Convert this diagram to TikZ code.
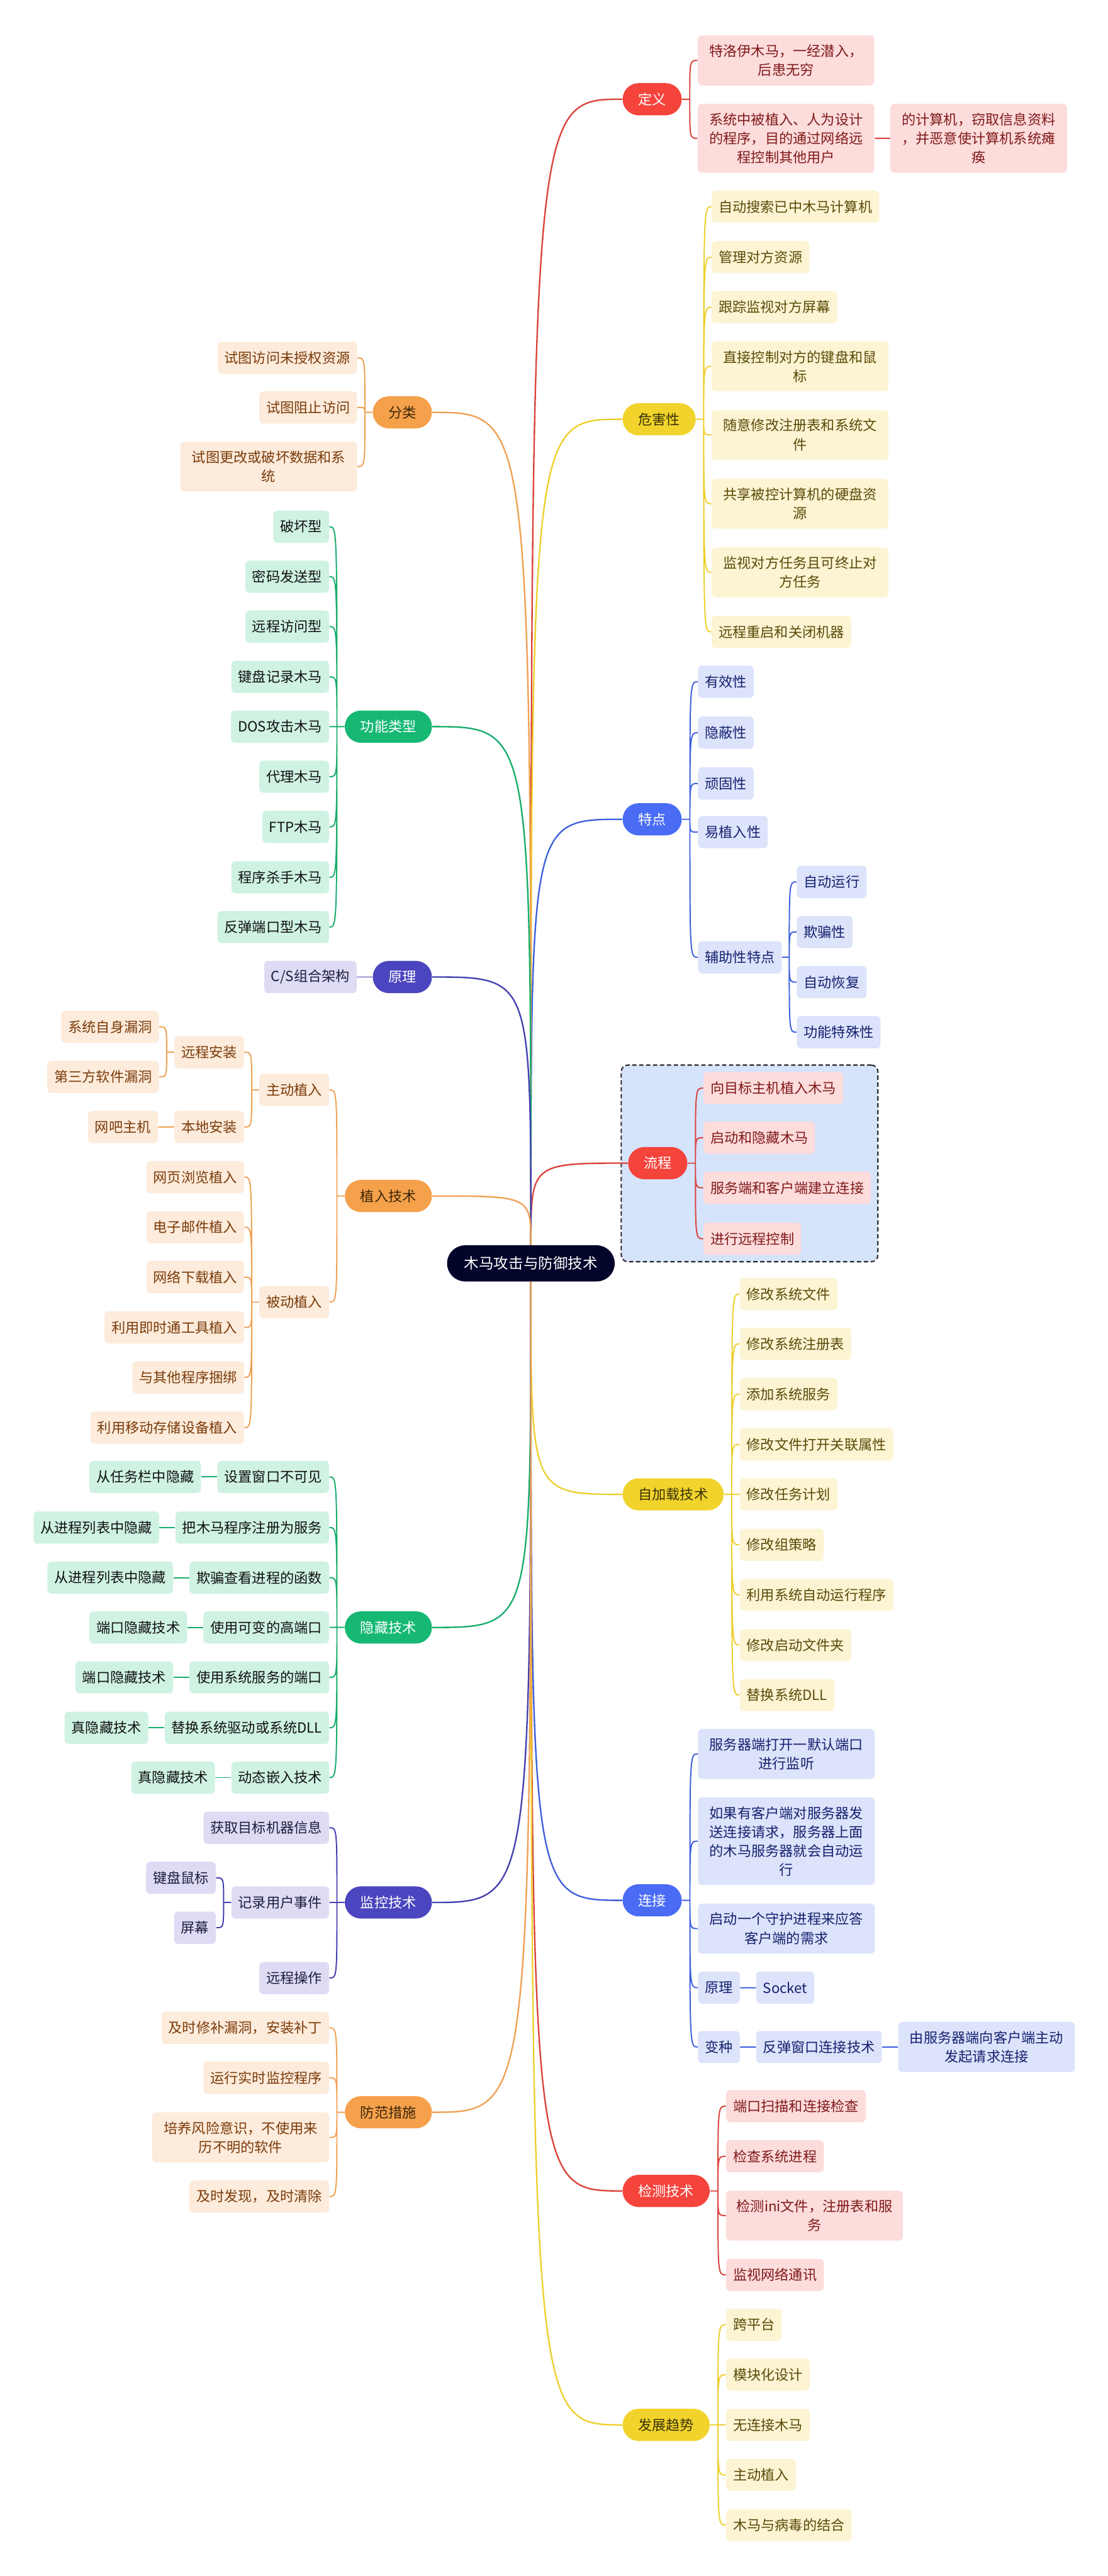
\documentclass[tikz,border=0pt]{standalone}
\usepackage{fontspec}
\setmainfont{Noto Sans CJK SC}
\usetikzlibrary{positioning,calc,fit,backgrounds}

\definecolor{rootC}{HTML}{03042A}
\definecolor{redM}{HTML}{F4443C}
\definecolor{redL}{HTML}{FDDCDC}
\definecolor{redT}{HTML}{801A1A}
\definecolor{redW}{HTML}{D9443C}
\definecolor{yelM}{HTML}{F1D32C}
\definecolor{yelL}{HTML}{FCF4D3}
\definecolor{yelT}{HTML}{5A4A08}
\definecolor{yelP}{HTML}{3A3208}
\definecolor{yelW}{HTML}{EDCF2E}
\definecolor{bluM}{HTML}{4A6CF5}
\definecolor{bluL}{HTML}{DCE3FB}
\definecolor{bluT}{HTML}{17216E}
\definecolor{bluW}{HTML}{3D60DC}
\definecolor{orgM}{HTML}{F5A04B}
\definecolor{orgL}{HTML}{FDEBDB}
\definecolor{orgT}{HTML}{7A3B0A}
\definecolor{orgP}{HTML}{3D2608}
\definecolor{orgW}{HTML}{EFA154}
\definecolor{grnM}{HTML}{16B873}
\definecolor{grnL}{HTML}{CFF2E3}
\definecolor{grnT}{HTML}{111111}
\definecolor{grnW}{HTML}{18AD6C}
\definecolor{indM}{HTML}{4B45BF}
\definecolor{indL}{HTML}{DEDCF4}
\definecolor{indT}{HTML}{1E1D3C}
\definecolor{indW}{HTML}{4540B0}
\definecolor{boxC}{HTML}{D5E3FB}
\definecolor{boxD}{HTML}{2B2B2B}

\begin{document}
\begin{tikzpicture}[
  x=1pt, y=-1pt,
  rootbox/.style={fill=rootC, text=white, rounded corners=11pt, minimum height=22pt, inner xsep=10.5pt, inner ysep=0pt, font=\fontsize{9}{11}\selectfont},
  pill/.style={rounded corners=9.8pt, minimum height=19.6pt, inner xsep=9.5pt, inner ysep=0pt, font=\fontsize{8.5}{11.5}\selectfont},
  leafbox/.style={rounded corners=2.5pt, minimum height=19.6pt, inner xsep=4.2pt, inner ysep=5.5pt, align=center, font=\fontsize{8.5}{11.5}\selectfont},
  wbox/.style={minimum width=107.5pt},
  redm/.style={pill, fill=redM, text=white},
  redk/.style={leafbox, fill=redL, text=redT},
  yelm/.style={pill, fill=yelM, text=yelP},
  yelk/.style={leafbox, fill=yelL, text=yelT},
  blum/.style={pill, fill=bluM, text=white},
  bluk/.style={leafbox, fill=bluL, text=bluT},
  orgm/.style={pill, fill=orgM, text=orgP},
  orgk/.style={leafbox, fill=orgL, text=orgT},
  grnm/.style={pill, fill=grnM, text=white},
  grnk/.style={leafbox, fill=grnL, text=grnT},
  indm/.style={pill, fill=indM, text=white},
  indk/.style={leafbox, fill=indL, text=indT},
  procframe/.style={draw=boxD, fill=boxC, dash pattern=on 2.6pt off 1.6pt, line width=0.8pt, rounded corners=4pt, inner sep=4pt},
  trunk/.style={line width=0.9pt, to path={let \p1=(\tikztostart), \p2=(\tikztotarget) in (\p1) .. controls (\x1,\y2) .. (\p2)}},
  kid/.style={line width=0.75pt, to path={let \p1=(\tikztostart), \p2=(\tikztotarget) in (\p1) -- ({(\x1+\x2)/2},\y1) .. controls ({(\x1+\x2)/2},\y2) .. (\p2)}}
]
\useasboundingbox (0,0) rectangle (674,1568);

\node[rootbox] (root) at (323,769) {木马攻击与防御技术};

% right side
\node[redm, anchor=west] (def) at (378.6,60.4) {定义};
\node[redk, wbox, anchor=west] (def1) at (424.3,36.8) {特洛伊木马，一经潜入，\\后患无穷};
\node[redk, wbox, anchor=west] (def2) at (424.3,84.2) {系统中被植入、人为设计\\的程序，目的通过网络远\\程控制其他用户};
\node[redk, wbox, right=9.3pt of def2] (def3) {的计算机，窃取信息资料\\，并恶意使计算机系统瘫\\痪};

\node[yelm, anchor=west] (harm) at (378.6,255.2) {危害性};
\node[yelk, anchor=west] (harm1) at (432.8,125.8) {自动搜索已中木马计算机};
\node[yelk, anchor=west] (harm2) at (432.8,156.5) {管理对方资源};
\node[yelk, anchor=west] (harm3) at (432.8,187) {跟踪监视对方屏幕};
\node[yelk, wbox, anchor=west] (harm4) at (432.8,223) {直接控制对方的键盘和鼠\\标};
\node[yelk, wbox, anchor=west] (harm5) at (432.8,264.7) {随意修改注册表和系统文\\件};
\node[yelk, wbox, anchor=west] (harm6) at (432.8,306.6) {共享被控计算机的硬盘资\\源};
\node[yelk, wbox, anchor=west] (harm7) at (432.8,348.4) {监视对方任务且可终止对\\方任务};
\node[yelk, anchor=west] (harm8) at (432.8,384.6) {远程重启和关闭机器};

\node[blum, anchor=west] (feat) at (378.6,498.7) {特点};
\node[bluk, anchor=west] (feat1) at (424.5,415) {有效性};
\node[bluk, anchor=west] (feat2) at (424.5,446) {隐蔽性};
\node[bluk, anchor=west] (feat3) at (424.5,476.9) {顽固性};
\node[bluk, anchor=west] (feat4) at (424.5,506.5) {易植入性};
\node[bluk, anchor=west] (feat5) at (424.5,582.7) {辅助性特点};
\node[bluk, anchor=west] (aux1) at (484.6,536.8) {自动运行};
\node[bluk, anchor=west] (aux2) at (484.6,567.3) {欺骗性};
\node[bluk, anchor=west] (aux3) at (484.6,597.8) {自动恢复};
\node[bluk, anchor=west] (aux4) at (484.6,628.3) {功能特殊性};

\node[redm, anchor=west] (proc) at (382,708) {流程};
\node[redk, anchor=west] (proc1) at (427.8,662.3) {向目标主机植入木马};
\node[redk, anchor=west] (proc2) at (427.8,692.5) {启动和隐藏木马};
\node[redk, anchor=west] (proc3) at (427.8,723) {服务端和客户端建立连接};
\node[redk, anchor=west] (proc4) at (427.8,754) {进行远程控制};
\begin{scope}[on background layer]
  \node[procframe, fit=(proc)(proc1)(proc2)(proc3)(proc4)] (procbox) {};
\end{scope}

\node[yelm, anchor=west] (load) at (378.6,909.6) {自加载技术};
\node[yelk, anchor=west] (load1) at (449.9,787.7) {修改系统文件};
\node[yelk, anchor=west] (load2) at (449.9,818) {修改系统注册表};
\node[yelk, anchor=west] (load3) at (449.9,848.6) {添加系统服务};
\node[yelk, anchor=west] (load4) at (449.9,879.2) {修改文件打开关联属性};
\node[yelk, anchor=west] (load5) at (449.9,909.6) {修改任务计划};
\node[yelk, anchor=west] (load6) at (449.9,940.3) {修改组策略};
\node[yelk, anchor=west] (load7) at (449.9,970.8) {利用系统自动运行程序};
\node[yelk, anchor=west] (load8) at (449.9,1001.3) {修改启动文件夹};
\node[yelk, anchor=west] (load9) at (449.9,1031.8) {替换系统DLL};

\node[blum, anchor=west] (conn) at (378.6,1156.7) {连接};
\node[bluk, wbox, anchor=west] (conn1) at (424.5,1067.6) {服务器端打开一默认端口\\进行监听};
\node[bluk, wbox, anchor=west] (conn2) at (424.5,1120.7) {如果有客户端对服务器发\\送连接请求，服务器上面\\的木马服务器就会自动运\\行};
\node[bluk, wbox, anchor=west] (conn3) at (424.5,1173.9) {启动一个守护进程来应答\\客户端的需求};
\node[bluk, anchor=west] (conn4) at (424.5,1209.9) {原理};
\node[bluk, right=9.6pt of conn4] (sock) {Socket};
\node[bluk, anchor=west] (conn5) at (424.5,1246) {变种};
\node[bluk, right=9.6pt of conn5] (rebound) {反弹窗口连接技术};
\node[bluk, wbox, right=9.6pt of rebound] (rebound2) {由服务器端向客户端主动\\发起请求连接};

\node[redm, anchor=west] (det) at (378.6,1333.6) {检测技术};
\node[redk, anchor=west] (det1) at (441.6,1282) {端口扫描和连接检查};
\node[redk, anchor=west] (det2) at (441.6,1312.5) {检查系统进程};
\node[redk, wbox, anchor=west] (det3) at (441.6,1348.6) {检测ini文件，注册表和服\\务};
\node[redk, anchor=west] (det4) at (441.6,1384.7) {监视网络通讯};

\node[yelm, anchor=west] (trend) at (378.6,1476) {发展趋势};
\node[yelk, anchor=west] (trend1) at (441.6,1415) {跨平台};
\node[yelk, anchor=west] (trend2) at (441.6,1445.5) {模块化设计};
\node[yelk, anchor=west] (trend3) at (441.6,1476) {无连接木马};
\node[yelk, anchor=west] (trend4) at (441.6,1506.5) {主动植入};
\node[yelk, anchor=west] (trend5) at (441.6,1537) {木马与病毒的结合};

% left side
\node[orgm, anchor=east] (cls) at (263,251) {分类};
\node[orgk, anchor=east] (cls1) at (217.4,217.8) {试图访问未授权资源};
\node[orgk, anchor=east] (cls2) at (217.4,248) {试图阻止访问};
\node[orgk, wbox, anchor=east] (cls3) at (217.4,284) {试图更改或破坏数据和系\\统};

\node[grnm, anchor=east] (func) at (263,442.3) {功能类型};
\node[grnk, anchor=east] (func1) at (200.4,320.6) {破坏型};
\node[grnk, anchor=east] (func2) at (200.4,351) {密码发送型};
\node[grnk, anchor=east] (func3) at (200.4,381.4) {远程访问型};
\node[grnk, anchor=east] (func4) at (200.4,412) {键盘记录木马};
\node[grnk, anchor=east] (func5) at (200.4,442.3) {DOS攻击木马};
\node[grnk, anchor=east] (func6) at (200.4,472.8) {代理木马};
\node[grnk, anchor=east] (func7) at (200.4,503.3) {FTP木马};
\node[grnk, anchor=east] (func8) at (200.4,534) {程序杀手木马};
\node[grnk, anchor=east] (func9) at (200.4,564.3) {反弹端口型木马};

\node[indm, anchor=east] (prin) at (263,594.7) {原理};
\node[indk, left=9.4pt of prin] (prin1) {C/S组合架构};

\node[orgm, anchor=east] (plant) at (263,728) {植入技术};
\node[orgk, anchor=east] (act) at (200.4,663.4) {主动植入};
\node[orgk, anchor=east] (remote) at (148.7,640.5) {远程安装};
\node[orgk, anchor=east] (vul1) at (96.9,625) {系统自身漏洞};
\node[orgk, anchor=east] (vul2) at (96.9,655.5) {第三方软件漏洞};
\node[orgk, anchor=east] (local) at (148.7,686) {本地安装};
\node[orgk, left=9.7pt of local] (cafe) {网吧主机};
\node[orgk, anchor=east] (pas) at (200.4,792.6) {被动植入};
\node[orgk, anchor=east] (pas1) at (148.7,716.5) {网页浏览植入};
\node[orgk, anchor=east] (pas2) at (148.7,747) {电子邮件植入};
\node[orgk, anchor=east] (pas3) at (148.7,777.4) {网络下载植入};
\node[orgk, anchor=east] (pas4) at (148.7,808) {利用即时通工具植入};
\node[orgk, anchor=east] (pas5) at (148.7,838.4) {与其他程序捆绑};
\node[orgk, anchor=east] (pas6) at (148.7,869) {利用移动存储设备植入};

\node[grnm, anchor=east] (hide) at (263,990.6) {隐藏技术};
\node[grnk, anchor=east] (hide1) at (200.4,899) {设置窗口不可见};
\node[grnk, anchor=east] (hide2) at (200.4,929.8) {把木马程序注册为服务};
\node[grnk, anchor=east] (hide3) at (200.4,960.3) {欺骗查看进程的函数};
\node[grnk, anchor=east] (hide4) at (200.4,990.6) {使用可变的高端口};
\node[grnk, anchor=east] (hide5) at (200.4,1021) {使用系统服务的端口};
\node[grnk, anchor=east] (hide6) at (200.4,1051.7) {替换系统驱动或系统DLL};
\node[grnk, anchor=east] (hide7) at (200.4,1082) {动态嵌入技术};
\node[grnk, left=9.6pt of hide1] (hideo1) {从任务栏中隐藏};
\node[grnk, left=9.6pt of hide2] (hideo2) {从进程列表中隐藏};
\node[grnk, left=9.6pt of hide3] (hideo3) {从进程列表中隐藏};
\node[grnk, left=9.6pt of hide4] (hideo4) {端口隐藏技术};
\node[grnk, left=9.6pt of hide5] (hideo5) {端口隐藏技术};
\node[grnk, left=9.6pt of hide6] (hideo6) {真隐藏技术};
\node[grnk, left=9.6pt of hide7] (hideo7) {真隐藏技术};

\node[indm, anchor=east] (mon) at (263,1158) {监控技术};
\node[indk, anchor=east] (mon1) at (200.4,1112.5) {获取目标机器信息};
\node[indk, anchor=east] (mon2) at (200.4,1158) {记录用户事件};
\node[indk, anchor=east] (key) at (131.5,1143) {键盘鼠标};
\node[indk, anchor=east] (scr) at (131.5,1173.4) {屏幕};
\node[indk, anchor=east] (mon3) at (200.4,1204) {远程操作};

\node[orgm, anchor=east] (prev) at (263,1285.7) {防范措施};
\node[orgk, anchor=east] (prev1) at (200.4,1234.3) {及时修补漏洞，安装补丁};
\node[orgk, anchor=east] (prev2) at (200.4,1264.7) {运行实时监控程序};
\node[orgk, wbox, anchor=east] (prev3) at (200.4,1301) {培养风险意识，不使用来\\历不明的软件};
\node[orgk, anchor=east] (prev4) at (200.4,1337) {及时发现，及时清除};

% trunks
\draw[trunk, redW] (root.north) to (def.west);
\draw[trunk, yelW] (root.north) to (harm.west);
\draw[trunk, bluW] (root.north) to (feat.west);
\draw[trunk, redW] (root.north) to (proc.west);
\draw[trunk, yelW] (root.south) to (load.west);
\draw[trunk, bluW] (root.south) to (conn.west);
\draw[trunk, redW] (root.south) to (det.west);
\draw[trunk, yelW] (root.south) to (trend.west);
\draw[trunk, orgW] (root.north) to (cls.east);
\draw[trunk, grnW] (root.north) to (func.east);
\draw[trunk, indW] (root.north) to (prin.east);
\draw[trunk, orgW] (root.north) to (plant.east);
\draw[trunk, grnW] (root.south) to (hide.east);
\draw[trunk, indW] (root.south) to (mon.east);
\draw[trunk, orgW] (root.south) to (prev.east);

% branches
\draw[kid, redW] (def.east) to (def1.west) (def.east) to (def2.west) (def2.east) to (def3.west);
\draw[kid, yelW] (harm.east) to (harm1.west) (harm.east) to (harm2.west) (harm.east) to (harm3.west)
  (harm.east) to (harm4.west) (harm.east) to (harm5.west) (harm.east) to (harm6.west)
  (harm.east) to (harm7.west) (harm.east) to (harm8.west);
\draw[kid, bluW] (feat.east) to (feat1.west) (feat.east) to (feat2.west) (feat.east) to (feat3.west)
  (feat.east) to (feat4.west) (feat.east) to (feat5.west);
\draw[kid, bluW] (feat5.east) to (aux1.west) (feat5.east) to (aux2.west) (feat5.east) to (aux3.west)
  (feat5.east) to (aux4.west);
\draw[kid, redW] (proc.east) to (proc1.west) (proc.east) to (proc2.west) (proc.east) to (proc3.west)
  (proc.east) to (proc4.west);
\draw[kid, yelW] (load.east) to (load1.west) (load.east) to (load2.west) (load.east) to (load3.west)
  (load.east) to (load4.west) (load.east) to (load5.west) (load.east) to (load6.west)
  (load.east) to (load7.west) (load.east) to (load8.west) (load.east) to (load9.west);
\draw[kid, bluW] (conn.east) to (conn1.west) (conn.east) to (conn2.west) (conn.east) to (conn3.west)
  (conn.east) to (conn4.west) (conn.east) to (conn5.west)
  (conn4.east) to (sock.west) (conn5.east) to (rebound.west) (rebound.east) to (rebound2.west);
\draw[kid, redW] (det.east) to (det1.west) (det.east) to (det2.west) (det.east) to (det3.west)
  (det.east) to (det4.west);
\draw[kid, yelW] (trend.east) to (trend1.west) (trend.east) to (trend2.west) (trend.east) to (trend3.west)
  (trend.east) to (trend4.west) (trend.east) to (trend5.west);

\draw[kid, orgW] (cls.west) to (cls1.east) (cls.west) to (cls2.east) (cls.west) to (cls3.east);
\draw[kid, grnW] (func.west) to (func1.east) (func.west) to (func2.east) (func.west) to (func3.east)
  (func.west) to (func4.east) (func.west) to (func5.east) (func.west) to (func6.east)
  (func.west) to (func7.east) (func.west) to (func8.east) (func.west) to (func9.east);
\draw[kid, indW] (prin.west) to (prin1.east);
\draw[kid, orgW] (plant.west) to (act.east) (plant.west) to (pas.east)
  (act.west) to (remote.east) (act.west) to (local.east)
  (remote.west) to (vul1.east) (remote.west) to (vul2.east) (local.west) to (cafe.east);
\draw[kid, orgW] (pas.west) to (pas1.east) (pas.west) to (pas2.east) (pas.west) to (pas3.east)
  (pas.west) to (pas4.east) (pas.west) to (pas5.east) (pas.west) to (pas6.east);
\draw[kid, grnW] (hide.west) to (hide1.east) (hide.west) to (hide2.east) (hide.west) to (hide3.east)
  (hide.west) to (hide4.east) (hide.west) to (hide5.east) (hide.west) to (hide6.east)
  (hide.west) to (hide7.east);
\draw[kid, grnW] (hide1.west) to (hideo1.east) (hide2.west) to (hideo2.east) (hide3.west) to (hideo3.east)
  (hide4.west) to (hideo4.east) (hide5.west) to (hideo5.east) (hide6.west) to (hideo6.east)
  (hide7.west) to (hideo7.east);
\draw[kid, indW] (mon.west) to (mon1.east) (mon.west) to (mon2.east) (mon.west) to (mon3.east)
  (mon2.west) to (key.east) (mon2.west) to (scr.east);
\draw[kid, orgW] (prev.west) to (prev1.east) (prev.west) to (prev2.east) (prev.west) to (prev3.east)
  (prev.west) to (prev4.east);

\end{tikzpicture}
\end{document}
